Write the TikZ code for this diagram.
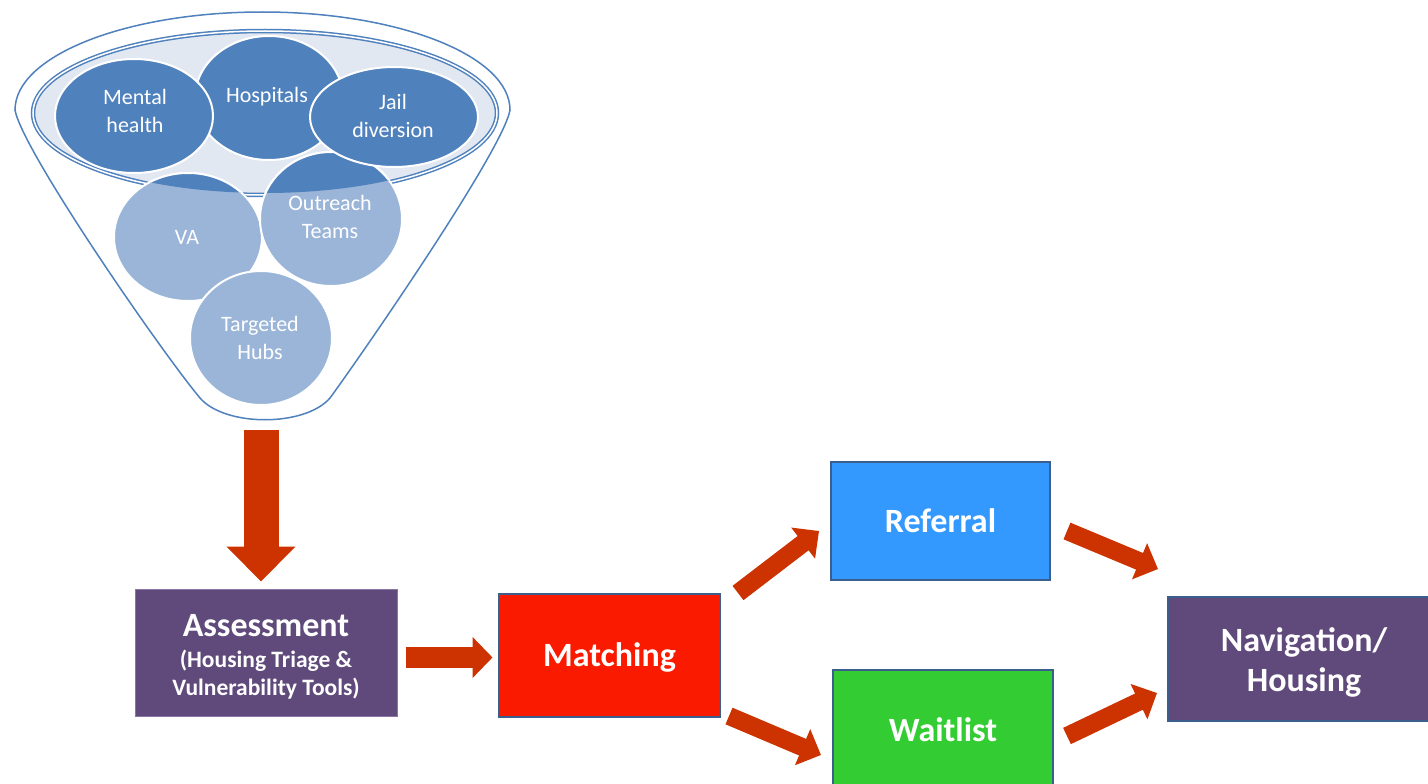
\documentclass[tikz,border=0pt]{standalone}
\usepackage{fontspec}
\setmainfont{Carlito}
\usetikzlibrary{arrows.meta}
\definecolor{fblue}{HTML}{4F81BD}
\definecolor{lblue}{HTML}{9AB5D8}
\definecolor{rim}{HTML}{E2E8F1}
\definecolor{arrowred}{HTML}{CC3300}
\definecolor{purp}{HTML}{604A7B}
\definecolor{purpline}{HTML}{8A76A5}
\definecolor{bord}{HTML}{3B5E8C}
\definecolor{matchred}{HTML}{FA1A00}
\definecolor{refblue}{HTML}{3399FF}
\definecolor{waitgreen}{HTML}{33CC33}
\begin{document}
\begin{tikzpicture}[x=1pt,y=-1pt,
  circtext/.style={text=white,font=\fontsize{22}{28}\selectfont,align=center,inner sep=0pt},
  darkcirc/.style={fill=fblue,draw=white,line width=2pt},
  lightcirc/.style={fill=lblue,draw=white,line width=2pt},
  box/.style={draw=bord,line width=2pt,text=white,font=\bfseries\fontsize{34}{40}\selectfont,align=center,inner sep=0pt},
  fat/.style={draw=arrowred,line width=18pt,-{Triangle[length=20pt,width=38pt]}},
]
\fill[white] (0,0) rectangle (1428,784);
\useasboundingbox (0,0) rectangle (1428,784);

% funnel outline
\begin{scope}
  \clip (0,0) rectangle (1428,110);
  \draw[fblue,line width=1.5pt] (262.5,110) ellipse [x radius=247.5,y radius=98];
\end{scope}
\draw[fblue,line width=1.5pt] (15,110) .. controls (22,150) and (160,350) .. (200,398)
  .. controls (225,427) and (305,427) .. (330,398)
  .. controls (365,350) and (503,150) .. (510,110);

% inner surface
\fill[rim] (265,113) ellipse [x radius=232,y radius=82];
\draw[fblue,line width=4.5pt] (265,113) ellipse [x radius=232,y radius=82];
\draw[white,line width=1.5pt] (265,113) ellipse [x radius=232,y radius=82];

% lower circles
\path[lightcirc] (188,237) ellipse [x radius=74,y radius=64];
\path[lightcirc] (331,219) ellipse [x radius=71,y radius=67];
\begin{scope}
  \clip (265,113) ellipse [x radius=230,y radius=80];
  \path[darkcirc] (188,237) ellipse [x radius=74,y radius=64];
  \path[darkcirc] (331,219) ellipse [x radius=71,y radius=67];
\end{scope}
\path[lightcirc] (261,338) ellipse [x radius=71,y radius=67];

% upper circles
\path[darkcirc] (269,98) ellipse [x radius=74,y radius=62];
\path[darkcirc] (134,116) ellipse [x radius=79,y radius=57];
\path[darkcirc] (394,117) ellipse [x radius=84,y radius=50];

% circle texts
\node[circtext] (tmh) at (135,111) {Mental\\health};
\node[circtext] (thos) at (267,97) {Hospitals};
\node[circtext] (tjail) at (393,116) {Jail\\diversion};
\node[circtext] (tva) at (187,237) {VA};
\node[circtext] (tout) at (330,217) {Outreach\\Teams};
\node[circtext] (thub) at (260,338) {Targeted\\Hubs};
\coordinate (fbot) at (261,430);

% boxes
\node[box,draw=purpline,line width=1pt,fill=purp,minimum width=262pt,minimum height=127pt] (assess) at (266,652.5)
  {\rule{0pt}{30pt}Assessment\\[-9pt]{\fontsize{23.5}{25}\selectfont (Housing Triage \&}\\[-12pt]{\fontsize{23.5}{25}\selectfont Vulnerability Tools)}};
\node[box,fill=matchred,minimum width=221pt,minimum height=123pt] (match) at (609.5,655.5) {\rule{0pt}{28pt}Matching};
\node[box,fill=refblue,minimum width=219pt,minimum height=118pt] (ref) at (940.5,521) {Referral};
\node[box,fill=waitgreen,minimum width=220pt,minimum height=120pt] (wait) at (943,730) {Waitlist};
\node[box,fill=purp,minimum width=272pt,minimum height=124pt] (nav) at (1304,659) {\rule{0pt}{30pt}Navigation/\\Housing};

% arrows
\draw[fat,line width=35pt,-{Triangle[length=35pt,width=67pt]}] (fbot) -- ([xshift=-5pt,yshift=7pt]assess.north);
\draw[fat,line width=21pt,-{Triangle[length=20pt,width=40pt]}] ([xshift=8pt,yshift=-5pt]assess.east) -- ([xshift=-5.5pt,yshift=-2pt]match.west);
\draw[fat] ([xshift=17pt]match.north east) -- ([xshift=-11pt,yshift=-10pt]ref.west);
\draw[fat] ([xshift=8pt,yshift=2pt]match.south east) -- ([xshift=-11pt,yshift=-25pt]wait.west);
\draw[fat] ([xshift=16pt,yshift=-10pt]ref.east) -- ([xshift=-9pt,yshift=27pt]nav.north west);
\draw[fat] ([xshift=13pt,yshift=-6pt]wait.east) -- ([xshift=-10pt,yshift=29pt]nav.south west);
\end{tikzpicture}
\end{document}
